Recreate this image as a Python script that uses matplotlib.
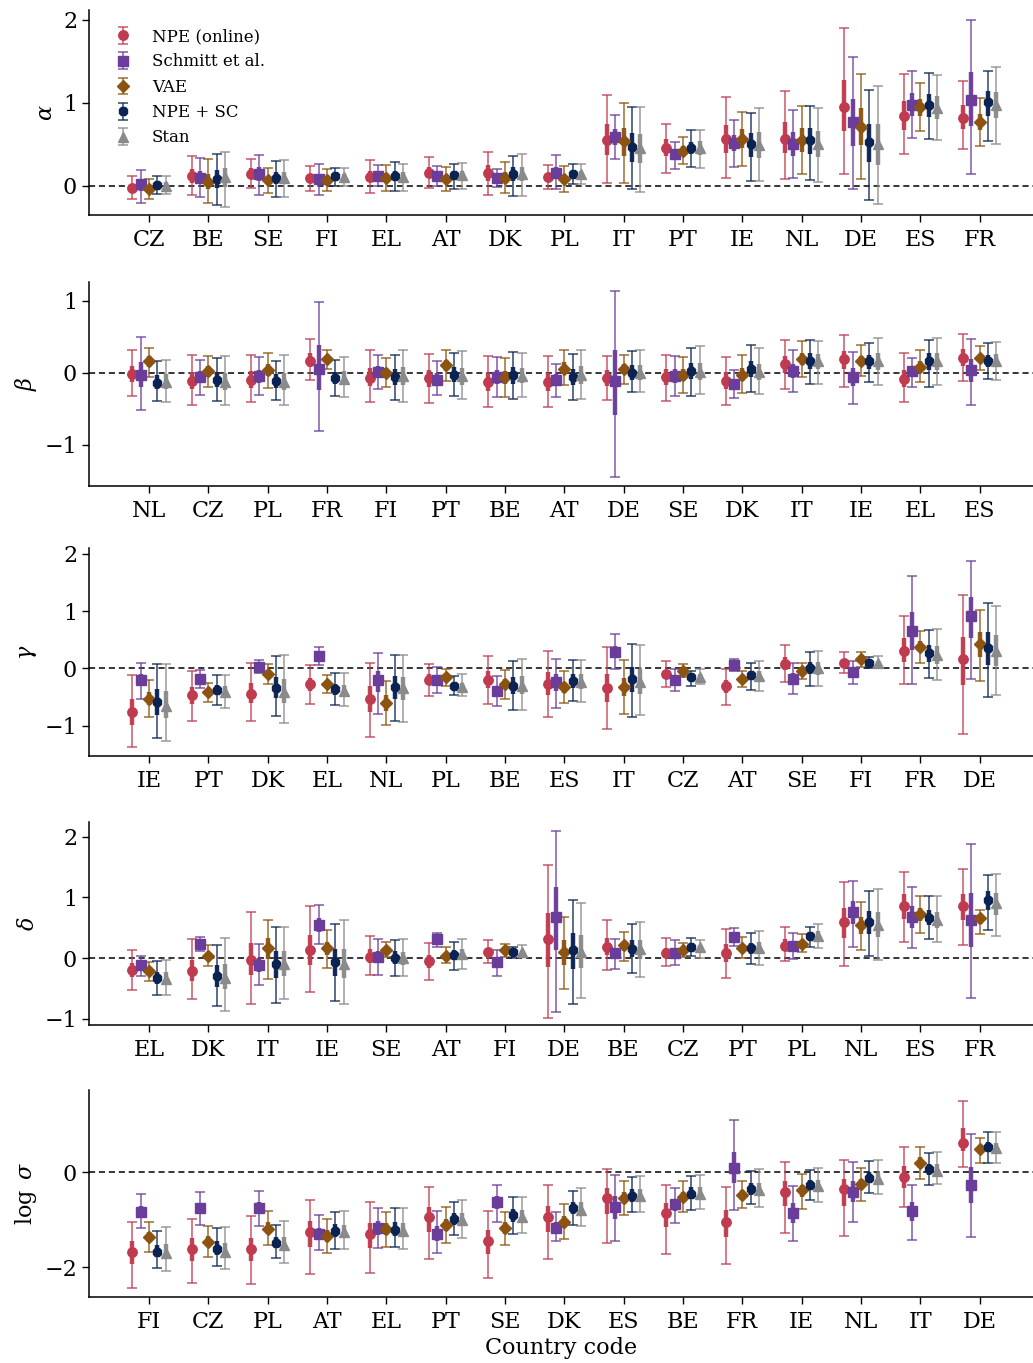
import numpy as np
import matplotlib
matplotlib.use("Agg")
import matplotlib.pyplot as plt

plt.rcParams['font.family'] = ['DejaVu Serif']
plt.rcParams['mathtext.fontset'] = 'dejavuserif'

METHODS = ["NPE (online)", "Schmitt et al.", "VAE", "NPE + SC", "Stan"]
COLORS = ["#c03b4f", "#6a3d9a", "#8c5410", "#0b2353", "#8a8a8a"]
MARKERS = ["o", "s", "D", "8", "^"]
MSIZES = [6.8, 6.8, 6.2, 6.8, 6.8]
OFFSETS = [-0.28, -0.14, 0.0, 0.14, 0.28]
Q50_FRACTION = 0.35  # 50% band drawn as a fraction of the 95% half-widths

# ---------------- alpha ----------------
ALPHA_COUNTRIES = ["CZ", "BE", "SE", "FI", "EL", "AT", "DK", "PL", "IT", "PT", "IE", "NL", "DE", "ES", "FR"]
ALPHA_MEAN = [
    [-0.02, 0.12, 0.15, 0.10, 0.11, 0.16, 0.16, 0.11, 0.55, 0.46, 0.56, 0.57, 0.95, 0.84, 0.82],
    [0.02, 0.10, 0.15, 0.08, 0.12, 0.12, 0.10, 0.16, 0.59, 0.38, 0.52, 0.51, 0.77, 0.98, 1.03],
    [-0.04, 0.05, 0.07, 0.07, 0.10, 0.08, 0.10, 0.08, 0.54, 0.42, 0.57, 0.55, 0.71, 0.95, 0.77],
    [0.01, 0.08, 0.10, 0.12, 0.12, 0.13, 0.15, 0.14, 0.47, 0.46, 0.50, 0.55, 0.53, 0.97, 1.01],
    [0.00, 0.11, 0.10, 0.11, 0.11, 0.13, 0.15, 0.14, 0.46, 0.46, 0.49, 0.51, 0.50, 0.94, 0.98],
]
ALPHA_LO = [
    [-0.16, -0.11, -0.02, -0.06, -0.08, -0.03, -0.11, -0.04, 0.04, 0.16, 0.09, 0.08, 0.14, 0.38, 0.45],
    [-0.20, -0.13, -0.11, -0.11, 0.00, 0.00, -0.01, -0.04, 0.32, 0.21, 0.23, 0.10, -0.04, 0.58, 0.15],
    [-0.16, -0.21, -0.08, -0.06, -0.06, -0.06, -0.09, -0.07, 0.03, 0.26, 0.24, 0.14, 0.08, 0.66, 0.48],
    [-0.10, -0.23, -0.13, 0.00, -0.06, -0.04, -0.12, 0.02, -0.04, 0.23, 0.06, 0.07, -0.17, 0.56, 0.54],
    [-0.10, -0.25, -0.13, 0.00, -0.06, -0.04, -0.12, 0.02, -0.07, 0.22, 0.06, 0.05, -0.22, 0.55, 0.51],
]
ALPHA_HI = [
    [0.12, 0.36, 0.33, 0.24, 0.31, 0.35, 0.41, 0.25, 1.10, 0.75, 1.07, 1.14, 1.90, 1.35, 1.26],
    [0.19, 0.34, 0.37, 0.27, 0.25, 0.24, 0.21, 0.37, 0.86, 0.53, 0.80, 0.92, 1.55, 1.38, 2.00],
    [0.08, 0.32, 0.22, 0.20, 0.25, 0.23, 0.29, 0.24, 1.00, 0.59, 0.89, 0.96, 1.35, 1.24, 1.06],
    [0.12, 0.39, 0.30, 0.22, 0.29, 0.27, 0.36, 0.27, 0.95, 0.67, 0.88, 0.96, 1.16, 1.36, 1.39],
    [0.12, 0.41, 0.31, 0.22, 0.27, 0.28, 0.38, 0.27, 0.95, 0.68, 0.94, 0.94, 1.20, 1.34, 1.43],
]

# ---------------- beta ----------------
BETA_COUNTRIES = ["NL", "CZ", "PL", "FR", "FI", "PT", "BE", "AT", "DE", "SE", "DK", "IT", "IE", "EL", "ES"]
BETA_MEAN = [
    [-0.02, -0.11, -0.10, 0.17, -0.07, -0.07, -0.13, -0.13, -0.07, -0.06, -0.11, 0.12, 0.19, -0.08, 0.21],
    [-0.03, -0.06, -0.05, 0.06, 0.01, -0.10, -0.06, -0.10, -0.12, -0.05, -0.16, 0.03, -0.06, 0.03, 0.04],
    [0.16, 0.02, 0.04, 0.19, 0.00, 0.11, -0.06, 0.06, 0.06, -0.03, -0.03, 0.19, 0.16, 0.08, 0.20],
    [-0.14, -0.10, -0.11, -0.07, -0.06, -0.03, -0.03, -0.06, 0.00, 0.03, 0.05, 0.17, 0.16, 0.17, 0.17],
    [-0.13, -0.13, -0.13, -0.08, -0.05, -0.05, -0.05, -0.03, 0.00, 0.01, 0.01, 0.16, 0.16, 0.16, 0.17],
]
BETA_LO = [
    [-0.32, -0.44, -0.41, -0.10, -0.41, -0.42, -0.48, -0.47, -0.38, -0.39, -0.45, -0.23, -0.19, -0.41, -0.11],
    [-0.51, -0.31, -0.31, -0.81, -0.22, -0.31, -0.34, -0.33, -1.44, -0.32, -0.35, -0.27, -0.43, -0.19, -0.44],
    [-0.06, -0.19, -0.21, 0.05, -0.20, -0.12, -0.33, -0.17, -0.16, -0.28, -0.28, -0.06, -0.04, -0.13, 0.04],
    [-0.39, -0.39, -0.38, -0.32, -0.38, -0.32, -0.37, -0.38, -0.27, -0.32, -0.27, -0.16, -0.13, -0.19, -0.08],
    [-0.40, -0.45, -0.44, -0.33, -0.40, -0.37, -0.33, -0.37, -0.27, -0.30, -0.29, -0.16, -0.17, -0.17, -0.10],
]
BETA_HI = [
    [0.31, 0.25, 0.25, 0.47, 0.31, 0.26, 0.23, 0.23, 0.24, 0.25, 0.22, 0.45, 0.52, 0.27, 0.54],
    [0.50, 0.18, 0.22, 0.98, 0.25, 0.17, 0.22, 0.12, 1.14, 0.24, 0.04, 0.31, 0.29, 0.21, 0.47],
    [0.35, 0.23, 0.27, 0.32, 0.20, 0.32, 0.20, 0.31, 0.25, 0.22, 0.25, 0.44, 0.38, 0.31, 0.37],
    [0.17, 0.20, 0.17, 0.18, 0.25, 0.27, 0.29, 0.26, 0.30, 0.34, 0.38, 0.46, 0.41, 0.46, 0.41],
    [0.18, 0.24, 0.25, 0.22, 0.31, 0.30, 0.27, 0.32, 0.32, 0.37, 0.35, 0.44, 0.48, 0.48, 0.43],
]

# ---------------- gamma ----------------
GAMMA_COUNTRIES = ["IE", "PT", "DK", "EL", "NL", "PL", "BE", "ES", "IT", "CZ", "AT", "SE", "FI", "FR", "DE"]
GAMMA_MEAN = [
    [-0.77, -0.47, -0.44, -0.28, -0.53, -0.20, -0.20, -0.27, -0.34, -0.10, -0.31, 0.08, 0.10, 0.31, 0.16],
    [-0.20, -0.19, 0.02, 0.22, -0.21, -0.20, -0.40, -0.24, 0.28, -0.21, 0.05, -0.18, -0.07, 0.65, 0.91],
    [-0.53, -0.41, -0.10, -0.28, -0.60, -0.15, -0.28, -0.33, -0.33, -0.05, -0.19, -0.05, 0.16, 0.38, 0.42],
    [-0.59, -0.38, -0.35, -0.36, -0.33, -0.31, -0.31, -0.22, -0.19, -0.15, -0.12, 0.01, 0.09, 0.26, 0.36],
    [-0.65, -0.41, -0.41, -0.40, -0.35, -0.33, -0.30, -0.24, -0.24, -0.15, -0.14, 0.00, 0.09, 0.23, 0.31],
]
GAMMA_LO = [
    [-1.38, -0.92, -0.92, -0.63, -1.20, -0.48, -0.62, -0.85, -1.06, -0.33, -0.64, -0.23, -0.09, -0.28, -1.14],
    [-0.53, -0.34, -0.09, 0.06, -0.79, -0.43, -0.65, -0.70, -0.01, -0.40, -0.05, -0.45, -0.28, -0.28, -0.18],
    [-0.85, -0.59, -0.28, -0.43, -0.99, -0.31, -0.53, -0.61, -0.79, -0.15, -0.33, -0.19, 0.03, 0.10, -0.22],
    [-1.21, -0.64, -0.83, -0.64, -0.92, -0.47, -0.72, -0.57, -0.85, -0.31, -0.37, -0.30, 0.00, -0.17, -0.50],
    [-1.27, -0.69, -0.96, -0.66, -0.94, -0.49, -0.72, -0.58, -0.81, -0.28, -0.39, -0.31, 0.01, -0.20, -0.46],
]
GAMMA_HI = [
    [-0.11, -0.05, 0.09, 0.05, 0.09, 0.08, 0.22, 0.30, 0.37, 0.12, -0.01, 0.40, 0.28, 0.92, 1.28],
    [0.09, -0.03, 0.14, 0.38, 0.27, 0.03, -0.13, 0.17, 0.60, -0.01, 0.17, 0.09, 0.13, 1.62, 1.87],
    [-0.20, -0.25, 0.08, -0.12, -0.22, -0.01, -0.03, -0.05, 0.14, 0.08, -0.04, 0.09, 0.28, 0.66, 1.01],
    [0.08, -0.11, 0.21, -0.09, 0.23, -0.14, 0.12, 0.15, 0.42, -0.04, 0.10, 0.29, 0.20, 0.67, 1.14],
    [0.08, -0.12, 0.23, -0.08, 0.24, -0.10, 0.16, 0.14, 0.40, -0.01, 0.13, 0.30, 0.21, 0.69, 1.09],
]

# ---------------- delta ----------------
DELTA_COUNTRIES = ["EL", "DK", "IT", "IE", "SE", "AT", "FI", "DE", "BE", "CZ", "PT", "PL", "NL", "ES", "FR"]
DELTA_MEAN = [
    [-0.19, -0.21, -0.03, 0.13, 0.02, -0.05, 0.10, 0.31, 0.18, 0.09, 0.09, 0.20, 0.59, 0.86, 0.85],
    [-0.12, 0.24, -0.12, 0.54, 0.02, 0.31, -0.07, 0.68, 0.08, 0.09, 0.35, 0.20, 0.76, 0.68, 0.63],
    [-0.21, 0.04, 0.16, 0.16, 0.13, 0.04, 0.13, 0.10, 0.21, 0.14, 0.17, 0.24, 0.54, 0.72, 0.66],
    [-0.32, -0.30, -0.10, -0.07, 0.01, 0.05, 0.10, 0.13, 0.15, 0.18, 0.17, 0.37, 0.59, 0.66, 0.96],
    [-0.34, -0.32, -0.10, -0.10, 0.00, 0.07, 0.10, 0.10, 0.15, 0.18, 0.17, 0.37, 0.55, 0.62, 0.91],
]
DELTA_LO = [
    [-0.53, -0.68, -0.76, -0.55, -0.27, -0.36, -0.08, -0.98, -0.20, -0.13, -0.33, -0.05, -0.13, 0.26, 0.21],
    [-0.29, 0.12, -0.45, 0.24, -0.27, 0.18, -0.30, -0.89, -0.18, -0.12, 0.20, -0.02, 0.19, 0.16, -0.66],
    [-0.38, -0.13, -0.35, -0.16, 0.02, -0.08, 0.02, -0.50, -0.04, 0.02, 0.00, 0.10, 0.14, 0.42, 0.40],
    [-0.60, -0.79, -0.73, -0.71, -0.30, -0.20, 0.00, -0.75, -0.24, 0.03, -0.10, 0.19, 0.03, 0.31, 0.47],
    [-0.60, -0.87, -0.67, -0.76, -0.30, -0.18, 0.02, -0.66, -0.31, 0.00, -0.11, 0.17, -0.03, 0.26, 0.36],
]
DELTA_HI = [
    [0.13, 0.32, 0.76, 0.85, 0.37, 0.25, 0.30, 1.53, 0.62, 0.33, 0.48, 0.51, 1.26, 1.41, 1.46],
    [0.03, 0.35, 0.23, 0.87, 0.31, 0.42, 0.13, 2.09, 0.32, 0.30, 0.50, 0.42, 1.27, 1.17, 1.87],
    [-0.07, 0.21, 0.63, 0.47, 0.26, 0.18, 0.24, 0.68, 0.43, 0.25, 0.34, 0.40, 0.93, 1.02, 0.79],
    [-0.05, 0.22, 0.52, 0.56, 0.30, 0.27, 0.19, 0.96, 0.56, 0.33, 0.41, 0.52, 1.11, 1.02, 1.37],
    [-0.03, 0.33, 0.52, 0.63, 0.31, 0.31, 0.21, 0.90, 0.59, 0.30, 0.45, 0.57, 1.13, 1.03, 1.38],
]

# ---------------- log sigma ----------------
SIGMA_COUNTRIES = ["FI", "CZ", "PL", "AT", "EL", "PT", "SE", "DK", "ES", "BE", "FR", "IE", "NL", "IT", "DE"]
SIGMA_MEAN = [
    [-1.68, -1.62, -1.62, -1.27, -1.31, -0.95, -1.44, -0.95, -0.54, -0.86, -1.06, -0.41, -0.36, -0.10, 0.62],
    [-0.84, -0.76, -0.76, -1.31, -1.17, -1.31, -0.62, -1.17, -0.73, -0.68, 0.08, -0.86, -0.41, -0.81, -0.27],
    [-1.37, -1.47, -1.19, -1.34, -1.20, -1.12, -1.17, -1.05, -0.54, -0.53, -0.48, -0.38, -0.25, 0.20, 0.48],
    [-1.68, -1.61, -1.49, -1.24, -1.22, -0.99, -0.91, -0.76, -0.50, -0.45, -0.36, -0.27, -0.12, 0.06, 0.53],
    [-1.71, -1.68, -1.54, -1.26, -1.24, -1.00, -0.95, -0.80, -0.50, -0.45, -0.38, -0.29, -0.15, 0.03, 0.50],
]
SIGMA_LO = [
    [-2.43, -2.33, -2.35, -2.14, -2.12, -1.82, -2.24, -1.82, -1.49, -1.73, -1.94, -1.28, -1.34, -0.74, 0.11],
    [-1.17, -1.12, -1.13, -1.64, -1.59, -1.71, -1.05, -1.45, -1.45, -1.07, -0.79, -1.44, -1.05, -1.42, -1.36],
    [-1.68, -1.79, -1.53, -1.71, -1.58, -1.49, -1.54, -1.40, -0.91, -0.84, -0.76, -0.77, -0.60, -0.14, 0.20],
    [-2.01, -1.97, -1.80, -1.62, -1.57, -1.33, -1.30, -1.12, -0.84, -0.79, -0.68, -0.58, -0.44, -0.27, 0.20],
    [-2.08, -2.05, -1.91, -1.62, -1.61, -1.38, -1.28, -1.13, -0.84, -0.78, -0.73, -0.62, -0.45, -0.26, 0.20],
]
SIGMA_HI = [
    [-1.05, -0.98, -0.93, -0.58, -0.62, -0.32, -0.82, -0.28, 0.06, -0.27, -0.31, 0.22, 0.25, 0.53, 1.49],
    [-0.47, -0.42, -0.39, -0.91, -0.75, -0.81, -0.27, -0.85, -0.06, -0.33, 1.09, -0.29, 0.21, -0.27, 0.81],
    [-1.06, -1.14, -0.82, -0.98, -0.84, -0.74, -0.84, -0.67, -0.18, -0.19, -0.18, -0.04, 0.08, 0.53, 0.72],
    [-1.24, -1.17, -1.11, -0.84, -0.76, -0.62, -0.53, -0.39, -0.11, -0.08, 0.02, 0.04, 0.24, 0.40, 0.84],
    [-1.16, -1.15, -1.03, -0.82, -0.75, -0.58, -0.52, -0.34, -0.08, -0.05, 0.06, 0.09, 0.25, 0.43, 0.84],
]

PANELS = [
    (r"$\alpha$", ALPHA_COUNTRIES, ALPHA_MEAN, ALPHA_LO, ALPHA_HI, (-0.35, 2.12), [0, 1, 2]),
    (r"$\beta$", BETA_COUNTRIES, BETA_MEAN, BETA_LO, BETA_HI, (-1.57, 1.26), [-1, 0, 1]),
    (r"$\gamma$", GAMMA_COUNTRIES, GAMMA_MEAN, GAMMA_LO, GAMMA_HI, (-1.53, 2.10), [-1, 0, 1, 2]),
    (r"$\delta$", DELTA_COUNTRIES, DELTA_MEAN, DELTA_LO, DELTA_HI, (-1.10, 2.24), [-1, 0, 1, 2]),
    (r"$\log\ \sigma$", SIGMA_COUNTRIES, SIGMA_MEAN, SIGMA_LO, SIGMA_HI, (-2.63, 1.73), [-2, 0]),
]

W, H = 1033, 1363
fig = plt.figure(figsize=(W / 100, H / 100), dpi=100)
BOXES = [(10, 215), (282, 486), (548, 756), (822, 1025), (1090, 1297)]

for pi, (ylab, countries, means, los, his, ylim, yticks) in enumerate(PANELS):
    top, bot = BOXES[pi]
    ax = fig.add_axes([89 / W, 1 - bot / H, (W - 89) / W, (bot - top) / H])
    x = np.arange(len(countries))
    ax.axhline(0, ls=(0, (4, 2.5)), color="black", lw=1.1, zorder=1)
    for mi in range(5):
        m = np.array(means[mi])
        lo = np.array(los[mi])
        hi = np.array(his[mi])
        xs = x + OFFSETS[mi]
        lo50 = m - Q50_FRACTION * (m - lo)
        hi50 = m + Q50_FRACTION * (hi - m)
        ax.vlines(xs, lo50, hi50, color=COLORS[mi], lw=3.2, zorder=2.5, alpha=0.95)
        cont = ax.errorbar(xs, m, yerr=[m - lo, hi - m], fmt=MARKERS[mi], color=COLORS[mi],
                           ms=MSIZES[mi], mec=COLORS[mi], elinewidth=1.3, capsize=3.5, capthick=1.3,
                           label=METHODS[mi], zorder=3)
        for art in list(cont[1]) + list(cont[2]):
            art.set_alpha(0.72)
    ax.set_xlim(-1.01, 14.9)
    ax.set_ylim(*ylim)
    ax.set_yticks(yticks)
    ax.set_yticklabels([("\u2212" + str(abs(t))) if t < 0 else str(t) for t in yticks])
    ax.set_xticks(x)
    ax.set_xticklabels(countries)
    ax.tick_params(axis="both", labelsize=16, length=5, width=1)
    ax.tick_params(axis="x", pad=5)
    ax.set_ylabel(ylab, fontsize=16)
    for s in ["top", "right"]:
        ax.spines[s].set_visible(False)
    for s in ["left", "bottom"]:
        ax.spines[s].set_linewidth(1.1)
    if pi == 0:
        ax.legend(loc="upper left", bbox_to_anchor=(0.01, 0.985), frameon=False, fontsize=12,
                  handlelength=1.2, handletextpad=1.1, labelspacing=0.5, borderpad=0.4,
                  borderaxespad=0.5)
    if pi == 4:
        ax.set_xlabel("Country code", fontsize=16, labelpad=3)

fig.savefig("out.png", dpi=100)
